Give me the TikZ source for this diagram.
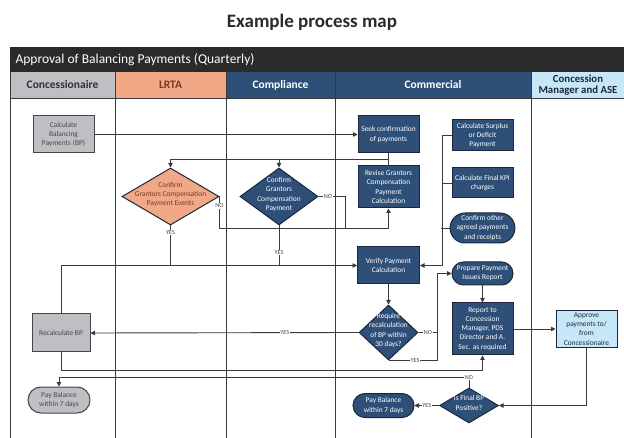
\documentclass[tikz,border=0pt]{standalone}
\usepackage{fontspec}
\setmainfont{Carlito}
\usepackage{xcolor}
\usepackage{tikz}
\usetikzlibrary{shapes.geometric,shapes.misc,arrows.meta}
\definecolor{barblack}{RGB}{42, 42, 42}
\definecolor{navy}{RGB}{46, 80, 120}
\definecolor{navyline}{RGB}{28, 40, 58}
\definecolor{greyfill}{RGB}{190, 191, 195}
\definecolor{greytext}{RGB}{70, 70, 72}
\definecolor{salmon}{RGB}{240, 168, 134}
\definecolor{salmontext}{RGB}{120, 58, 28}
\definecolor{skyblue}{RGB}{198, 231, 247}
\definecolor{flowline}{RGB}{58, 58, 58}
\newcommand{\dtext}[1]{\makebox[0pt]{\smash{\begin{tabular}[c]{@{}c@{}}#1\end{tabular}}}}
\tikzset{
  procbox/.style={rectangle, draw=navyline, line width=1pt, minimum width=61pt,
    align=center, inner sep=1pt, font=\fontsize{7.4}{9.2}\selectfont},
  bluebox/.style={procbox, fill=navy, text=white},
  greybox/.style={procbox, fill=greyfill, draw=greytext, text=greytext},
  skybox/.style={procbox, fill=skyblue, text=navyline},
  termbox/.style={procbox, rounded rectangle, inner sep=0pt},
  decision/.style={diamond, draw=navyline, line width=1pt, inner sep=0pt,
    font=\fontsize{7.4}{9.2}\selectfont},
  flow/.style={draw=flowline, line width=0.9pt, -{Triangle[length=4.5pt,width=4.5pt]}},
  link/.style={draw=flowline, line width=0.9pt},
  lbl/.style={fill=white, inner sep=0.6pt, text=greytext, font=\fontsize{6.2}{7}\selectfont},
  lanehead/.style={font=\bfseries\fontsize{11.5}{12}\selectfont, align=center}
}
\begin{document}
\begin{tikzpicture}[x=1pt,y=-1pt]
\useasboundingbox (0,0) rectangle (624,438);
\fill[white] (0,0) rectangle (624,438);
% title and header bar
\node[font=\bfseries\fontsize{19}{21}\selectfont, text=barblack] (title) at (312,22) {Example process map};
\fill[barblack] (10,47) rectangle (624,72);
\node[anchor=west, text=white, font=\fontsize{13.5}{14}\selectfont] (process) at (12,60) {Approval of Balancing Payments (Quarterly)};
% lane headers
\fill[greyfill] (10,72) rectangle (115,98);
\fill[salmon] (115,72) rectangle (226,98);
\fill[navy] (226,72) rectangle (531,98);
\fill[skyblue] (531,72) rectangle (624,98);
\node[lanehead, text=greytext!70!black] (hconc) at (62.5,85) {Concessionaire};
\node[lanehead, text=salmontext] (hlrta) at (170.5,85) {LRTA};
\node[lanehead, text=white] (hcomp) at (280.5,85) {Compliance};
\node[lanehead, text=white] (hcomm) at (433,85) {Commercial};
\node[lanehead, text=navyline, font=\bfseries\fontsize{10.8}{11.5}\selectfont] (hcman) at (578,85) {Concession\\Manager and ASE};
% lane lines
\draw[flowline, line width=0.9pt] (10,98) -- (624,98);
\foreach \lx in {10,115,226,335,531}
  \draw[flowline, line width=0.9pt] (\lx,72) -- (\lx,438);
% concessionaire
\node[greybox, minimum height=37pt] (calcbp) at (63.5,134.5) {Calculate\\Balancing\\Payments (BP)};
\node[greybox, minimum width=58pt, minimum height=38pt] (recalcbp) at (61,333) {Recalculate BP};
\node[termbox, fill=greyfill, draw=greytext, text=greytext, minimum width=62pt, minimum height=26pt] (paygrey) at (59,400) {Pay Balance\\within 7 days};
% LRTA and compliance
\node[decision, fill=salmon, text=salmontext, minimum width=97pt, minimum height=57pt] (conflrta) at (170.5,196.5)
  {\dtext{Confirm\\Grantors Compensation\\Payment Events}};
\node[decision, fill=navy, text=white, minimum width=78pt, minimum height=57pt] (confcomp) at (279,196.5)
  {\dtext{Confirm\\Grantors\\Compensation\\Payment}};
% commercial
\node[bluebox, minimum height=37pt] (seek) at (388.5,134.5) {Seek confirmation\\of payments};
\node[bluebox, minimum height=42pt] (revise) at (388.5,187) {Revise Grantors\\Compensation\\Payment\\Calculation};
\node[bluebox, minimum height=31pt] (surplus) at (482.5,135.5) {Calculate Surplus\\or Deficit\\Payment};
\node[bluebox, minimum height=30pt] (kpi) at (482.5,183) {Calculate Final KPI\\charges};
\node[termbox, fill=navy, text=white, minimum height=30pt] (other) at (482.5,228) {Confirm other\\agreed payments\\and receipts};
\node[bluebox, minimum width=62pt, minimum height=37pt] (verify) at (388.5,265.5) {Verify Payment\\Calculation};
\node[termbox, fill=navy, text=white, minimum height=23pt] (prep) at (482.5,273.5) {Prepare Payment\\Issues Report};
\node[decision, fill=navy, text=white, minimum width=59pt, minimum height=55pt] (recalc) at (388.5,332.5)
  {\dtext{Require\\recalculation\\of BP within\\30 days?}};
\node[bluebox, minimum height=52pt] (report) at (482.5,329) {Report to\\Concession\\Manager, PDS\\Director and A.\\Sec. as required};
\node[decision, fill=navy, text=white, minimum width=59pt, minimum height=35pt] (final) at (469,405.5)
  {\dtext{Is Final BP\\Positive?}};
\node[termbox, fill=navy, text=white, minimum height=24pt] (payblue) at (383.5,405.5) {Pay Balance\\within 7 days};
% concession manager
\node[skybox, minimum height=37pt] (approve) at (586.5,329) {Approve\\payments to/\\from\\Concessionaire};
% connectors
\coordinate (split) at (388.5,159);
\draw[flow] (calcbp.east) -- (seek.west);
\draw[link] (seek.south) -- (revise.north);
\draw[flow] (split) -| (confcomp.north);
\draw[flow] (split) -| (conflrta.north);
\draw[flow] (conflrta.east) -- node[lbl, pos=0.3]{NO} ++(0,31.5) -| (revise.south);
\draw[link] (confcomp.east) -- node[lbl, pos=0.35]{NO} ++(27,0) -- ++(0,31.5);
\draw[flow] (recalcbp.north) |- (verify.west);
\draw[link] (conflrta.south) -- node[lbl, pos=0.18]{YES} (conflrta.south |- verify.west);
\draw[link] (confcomp.south) -- node[lbl, pos=0.68]{YES} (confcomp.south |- verify.west);
\draw[flow] (surplus.west) -- ++(-9,0) |- (verify.east);
\draw[link] (kpi.west) -- ++(-9,0);
\draw[link] (other.west) -- ++(-9,0);
\draw[flow] (verify.south) -- (recalc.north);
\draw[flow] (recalc.west) -- node[lbl, pos=0.275]{YES} (recalcbp.east);
\draw[link] (recalc.east) -- node[lbl]{NO} ++(19,0);
\draw[flow] (recalc.south) -- node[lbl, pos=0.54]{YES} ++(49,0) |- (prep.west);
\draw[flow] (prep.south) -- (report.north);
\draw[flow] (recalcbp.south) -- ++(0,18) -| (report.south);
\draw[flow] (report.east) -- (approve.west);
\draw[flow] (approve.south) |- (final.east);
\draw[flow] (final.west) -- node[lbl]{YES} (payblue.east);
\draw[flow] (final.north) -- ++(0,-10) node[lbl]{NO} -| (paygrey.north);
\end{tikzpicture}
\end{document}
